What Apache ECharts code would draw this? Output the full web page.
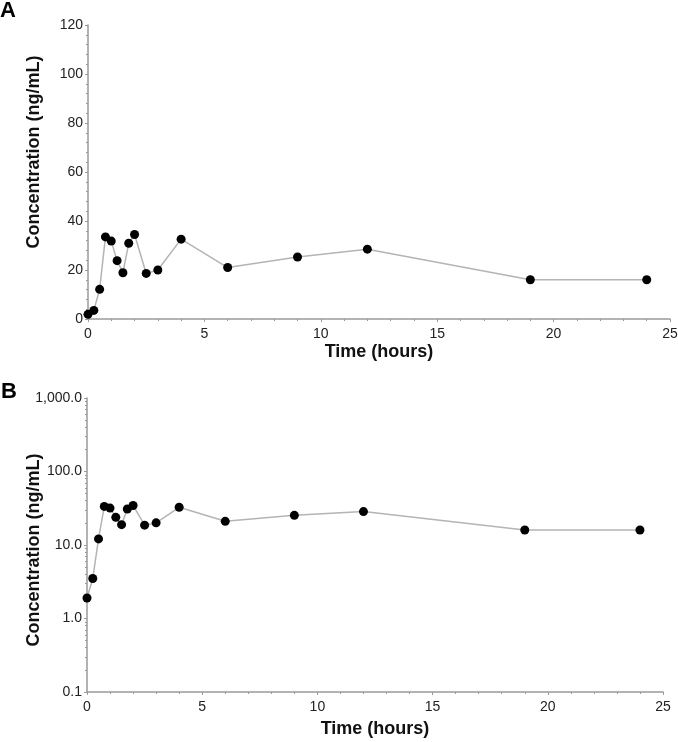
<!DOCTYPE html>
<html>
<head>
<meta charset="utf-8">
<script src="https://cdn.jsdelivr.net/npm/echarts@6/dist/echarts.min.js"></script>
<style>html,body{margin:0;padding:0;background:#fff}#c{width:678px;height:742px}</style>
</head>
<body>
<div id="c"></div>
<script>
// Data
const timeHours = [0, 0.25, 0.5, 0.75, 1.0, 1.25, 1.5, 1.75, 2.0, 2.5, 3.0, 4.0, 6.0, 9.0, 12.0, 19.0, 24.0];
const concentration = [1.9, 3.5, 12.1, 33.5, 31.8, 23.8, 18.9, 30.9, 34.5, 18.6, 20.0, 32.6, 21.0, 25.3, 28.5, 16.0, 16.0];
const xTicks = [0, 5, 10, 15, 20, 25];
const yTicksLinear = [0, 20, 40, 60, 80, 100, 120];
const yTicksLog = [0.1, 1, 10, 100, 1000];
const panelLabels = ['A', 'B'];
const xTitle = 'Time (hours)';
const yTitle = 'Concentration (ng/mL)';

const pts = timeHours.map((t, i) => [t, concentration[i]]);
const FONT = 'Liberation Sans, Arial, sans-serif';
const axisGrey = '#9a9a9a';

function xAxis(gridIndex, gap) {
  return {
    type: 'value', gridIndex, min: xTicks[0], max: xTicks[xTicks.length - 1], interval: 5,
    name: xTitle, nameLocation: 'middle', nameGap: gap, nameMoveOverlap: false,
    nameTextStyle: { fontFamily: FONT, fontWeight: 'bold', fontSize: 18, color: '#111' },
    axisLine: { show: true, lineStyle: { color: axisGrey, width: 1.5 } },
    axisTick: { show: true, length: 3, lineStyle: { color: axisGrey } },
    minorTick: { show: true, splitNumber: 5, length: 2, lineStyle: { color: axisGrey } },
    axisLabel: { fontFamily: FONT, fontSize: 14, color: '#222', margin: 8 },
    splitLine: { show: false }
  };
}

const chart = echarts.init(document.getElementById('c'), null, { renderer: 'canvas' });
chart.setOption({
  animation: false,
  backgroundColor: '#fff',
  title: [
    { text: panelLabels[0], left: 0, top: 0, padding: 0, textStyle: { fontFamily: FONT, fontWeight: 'bold', fontSize: 22, color: '#000' } },
    { text: panelLabels[1], left: 1, top: 381, padding: 0, textStyle: { fontFamily: FONT, fontWeight: 'bold', fontSize: 22, color: '#000' } }
  ],
  grid: [
    { left: 88, right: 8, top: 25, height: 294, outerBoundsMode: 'none', containLabel: false },
    { left: 87, right: 15, top: 398, height: 294, outerBoundsMode: 'none', containLabel: false }
  ],
  xAxis: [xAxis(0, 24), xAxis(1, 28)],
  yAxis: [
    {
      type: 'value', gridIndex: 0, min: yTicksLinear[0], max: yTicksLinear[yTicksLinear.length - 1], interval: 20,
      name: yTitle, nameLocation: 'middle', nameGap: 45, nameMoveOverlap: false,
      nameTextStyle: { fontFamily: FONT, fontWeight: 'bold', fontSize: 18, color: '#111', padding: [0, 0, 0, 40] },
      axisLine: { show: true, lineStyle: { color: axisGrey, width: 1.5 } },
      axisTick: { show: true, length: 3, lineStyle: { color: axisGrey } },
      minorTick: { show: true, splitNumber: 5, length: 2, lineStyle: { color: axisGrey } },
      axisLabel: { fontFamily: FONT, fontSize: 14, color: '#222', margin: 5 },
      splitLine: { show: false }
    },
    {
      type: 'log', logBase: 10, gridIndex: 1, min: yTicksLog[0], max: yTicksLog[yTicksLog.length - 1],
      name: yTitle, nameLocation: 'middle', nameGap: 44, nameMoveOverlap: false,
      nameTextStyle: { fontFamily: FONT, fontWeight: 'bold', fontSize: 18, color: '#111', padding: [0, 10, 0, 0] },
      axisLine: { show: true, lineStyle: { color: axisGrey, width: 1.5 } },
      axisTick: { show: true, length: 3, lineStyle: { color: axisGrey } },
      minorTick: { show: true, splitNumber: 9, length: 2, lineStyle: { color: axisGrey } },
      axisLabel: {
        fontFamily: FONT, fontSize: 14, color: '#222', margin: 5,
        formatter: v => Number(v).toLocaleString('en-US', { minimumFractionDigits: 1, maximumFractionDigits: 1 })
      },
      splitLine: { show: false }
    }
  ],
  series: [
    {
      type: 'line', xAxisIndex: 0, yAxisIndex: 0, data: pts,
      symbol: 'circle', symbolSize: 9, itemStyle: { color: '#000' },
      lineStyle: { color: '#b4b4b4', width: 1.5 }
    },
    {
      type: 'line', xAxisIndex: 1, yAxisIndex: 1, data: pts,
      symbol: 'circle', symbolSize: 9, itemStyle: { color: '#000' },
      lineStyle: { color: '#b4b4b4', width: 1.5 }
    }
  ]
});
</script>
</body>
</html>
